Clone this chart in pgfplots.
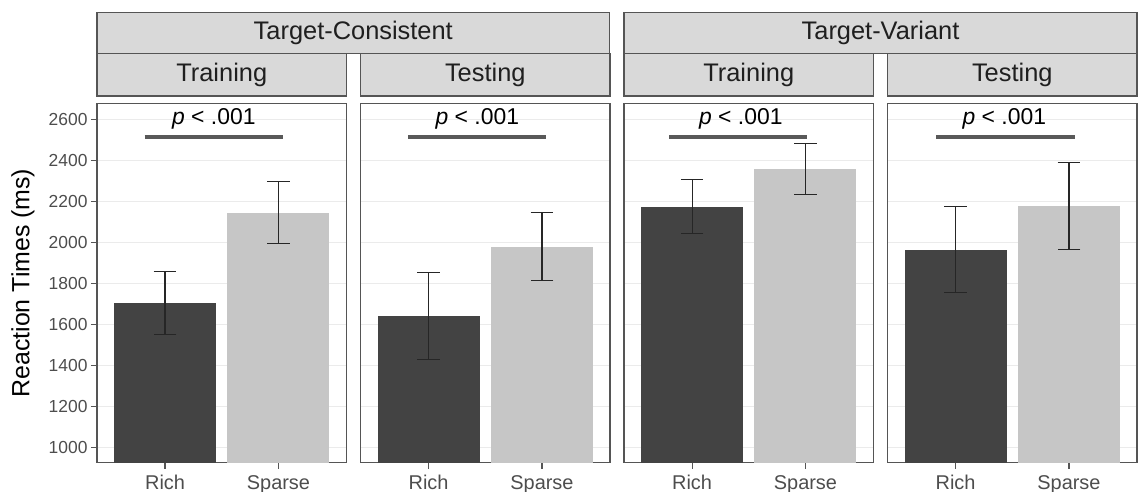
\documentclass[border=0pt]{standalone}
\usepackage{pgfplots}
\pgfplotsset{compat=1.18}
\usepackage{fontspec}
\setmainfont{Liberation Sans}
\definecolor{darkbar}{HTML}{434343}
\definecolor{lightbar}{HTML}{C6C6C6}
\definecolor{stripfill}{HTML}{D9D9D9}
\definecolor{bordercol}{HTML}{555555}
\definecolor{gridcol}{HTML}{EBEBEB}
\definecolor{ticklab}{HTML}{4D4D4D}
\definecolor{sigcol}{HTML}{595959}

\pgfplotsset{
  facet/.style={
    scale only axis, width=249.5bp, height=359.2bp, anchor=south west,
    xmin=0.4, xmax=2.6, ymin=925, ymax=2678,
    xtick={1,2}, xticklabels={Rich,Sparse},
    ytick={1000,1200,...,2600},
    ymajorgrids, grid style={gridcol, line width=1.1bp},
    axis line style={bordercol, line width=1.2bp},
    tick style={bordercol, line width=1.1bp},
    tick align=outside, major tick length=6bp,
    xtick pos=bottom, ytick pos=left,
    x tick label style={font=\fontsize{20}{20}\selectfont, text=ticklab, yshift=-3bp},
    y tick label style={font=\fontsize{17.5}{17.5}\selectfont, text=ticklab},
    /pgf/number format/assume math mode=true,
    /pgf/number format/1000 sep={},
  },
  noy/.style={yticklabels={}, ytick style={draw=none}},
  richbar/.style={ybar, bar width=0.9, bar shift=0pt, fill=darkbar, draw=none,
    error bars/.cd, y dir=both, y explicit, error mark=|,
    error bar style={black!85, line width=1.1bp},
    error mark options={black!85, line width=1.1bp, mark size=11.3bp}},
  sparsebar/.style={ybar, bar width=0.9, bar shift=0pt, fill=lightbar, draw=none,
    error bars/.cd, y dir=both, y explicit, error mark=|,
    error bar style={black!85, line width=1.1bp},
    error mark options={black!85, line width=1.1bp, mark size=11.3bp}},
  sigline/.style={sigcol, line width=4bp, mark=none},
}
\newcommand{\ptext}{\node[font=\fontsize{23}{23}\selectfont] at (axis cs:1.43,2605) {\textit{p} < .001};}

\begin{document}
\begin{tikzpicture}
\path[use as bounding box] (0,0) rectangle (1142bp,492bp);

% Panel 1: Target-Consistent, Training
\begin{axis}[facet, at={(97bp,29.3bp)},
  ylabel={Reaction Times (ms)},
  ylabel style={font=\fontsize{25}{25}\selectfont, at={(axis description cs:-0.297,0.5)}, anchor=center}]
\addplot[richbar] coordinates {(1,1705) +- (0,155)};
\addplot[sparsebar] coordinates {(2,2145) +- (0,151)};
\addplot[sigline] coordinates {(0.82,2515) (2.04,2515)};
\ptext
\end{axis}

% Panel 2: Target-Consistent, Testing
\begin{axis}[facet, noy, at={(360.5bp,29.3bp)}]
\addplot[richbar] coordinates {(1,1640) +- (0,213)};
\addplot[sparsebar] coordinates {(2,1980) +- (0,168)};
\addplot[sigline] coordinates {(0.82,2515) (2.04,2515)};
\ptext
\end{axis}

% Panel 3: Target-Variant, Training
\begin{axis}[facet, noy, at={(624bp,29.3bp)}]
\addplot[richbar] coordinates {(1,2175) +- (0,130)};
\addplot[sparsebar] coordinates {(2,2359) +- (0,125)};
\addplot[sigline] coordinates {(0.80,2515) (2.01,2515)};
\ptext
\end{axis}

% Panel 4: Target-Variant, Testing
\begin{axis}[facet, noy, at={(887.5bp,29.3bp)}]
\addplot[richbar] coordinates {(1,1965) +- (0,209)};
\addplot[sparsebar] coordinates {(2,2179) +- (0,212)};
\addplot[sigline] coordinates {(0.83,2515) (2.05,2515)};
\ptext
\end{axis}

% Strips
\begin{scope}[x=1bp, y=1bp]
\tikzset{strip/.style={fill=stripfill, draw=bordercol, line width=1.2bp},
         striptext/.style={font=\fontsize{25.5}{25.5}\selectfont, text=black!88}}
\draw[strip] (97,438.7) rectangle (609.5,479.7);
\draw[strip] (624,438.7) rectangle (1137,479.7);
\draw[strip] (97,396) rectangle (346.5,438.7);
\draw[strip] (360.5,396) rectangle (610,438.7);
\draw[strip] (624,396) rectangle (873.5,438.7);
\draw[strip] (887.5,396) rectangle (1137,438.7);
\node[striptext] at (353.25,459.2) {Target-Consistent};
\node[striptext] at (880.5,459.2) {Target-Variant};
\node[striptext] at (221.75,417.35) {Training};
\node[striptext] at (485.25,417.35) {Testing};
\node[striptext] at (748.75,417.35) {Training};
\node[striptext] at (1012.25,417.35) {Testing};
\end{scope}
\end{tikzpicture}
\end{document}
